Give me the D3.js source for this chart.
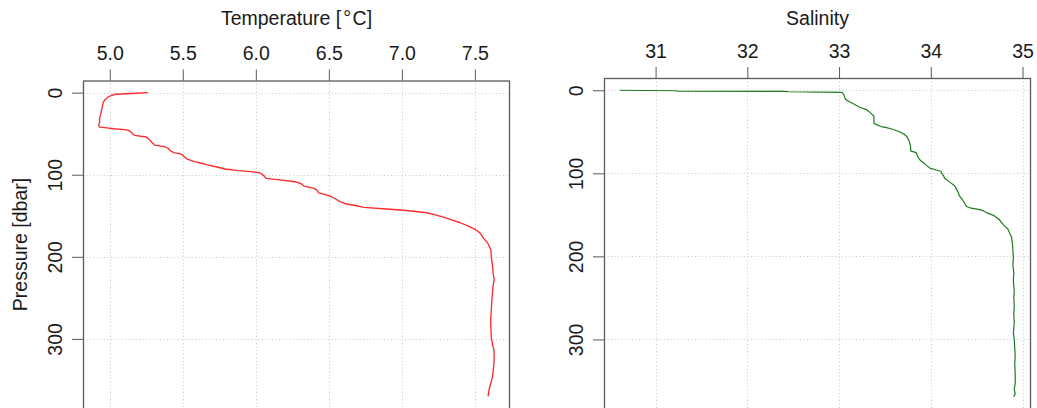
<!DOCTYPE html>
<html>
<head>
<meta charset="utf-8">
<script src="https://cdn.jsdelivr.net/npm/d3@7"></script>
<style>
  html, body { margin: 0; padding: 0; background: #fff; overflow: hidden; }
  svg { display: block; font-family: "Liberation Sans", Arial, sans-serif; }
</style>
</head>
<body>
<svg id="chart" width="1037" height="408"></svg>
<script>
// CTD cast: temperature and salinity profiles against pressure

// Temperature profile
const tempPressure = [0, 1, 2, 3.5, 5, 8, 12, 16, 20, 25, 31, 36, 40, 42, 43, 44, 45, 46, 48, 50, 52, 54, 56, 58, 61, 64, 66, 68, 71, 73, 75, 78, 81, 84, 86, 88, 90, 93, 95, 96.3, 97.5, 99, 102, 104.4, 106, 108.5, 111, 113.8, 116.6, 119, 122, 124, 126, 129, 133, 135.7, 137.5, 139.8, 141.5, 143, 144.5, 146.3, 149, 152, 154.4, 158.5, 163, 167.4, 172, 177.6, 184, 191.8, 200, 210, 220, 228, 236, 245, 255, 265, 277, 290, 298, 306, 314, 322, 330, 338, 346, 352, 358, 364, 370];
const temperature = [5.26, 5.15, 5.04, 5.01, 4.99, 4.97, 4.955, 4.95, 4.945, 4.94, 4.93, 4.93, 4.925, 4.93, 4.98, 5.03, 5.10, 5.13, 5.145, 5.155, 5.17, 5.25, 5.265, 5.275, 5.29, 5.31, 5.38, 5.40, 5.415, 5.44, 5.49, 5.51, 5.53, 5.58, 5.63, 5.67, 5.72, 5.79, 5.88, 5.97, 6.02, 6.04, 6.06, 6.07, 6.15, 6.27, 6.31, 6.33, 6.40, 6.42, 6.43, 6.47, 6.51, 6.54, 6.58, 6.62, 6.68, 6.74, 6.87, 6.99, 7.08, 7.17, 7.23, 7.29, 7.33, 7.40, 7.46, 7.51, 7.54, 7.56, 7.59, 7.61, 7.612, 7.62, 7.625, 7.632, 7.624, 7.62, 7.615, 7.612, 7.608, 7.61, 7.612, 7.62, 7.63, 7.632, 7.63, 7.626, 7.62, 7.612, 7.602, 7.595, 7.59];

// Salinity profile
const salPressure = [0, 0.6, 1.0, 1.3, 1.8, 2.5, 3.6, 5, 8, 10.8, 13, 16, 19, 21, 23, 26, 29, 31, 35, 39.7, 42, 43.7, 45, 47, 50, 53, 56, 60, 63, 68, 73, 75, 78, 82, 85, 88, 91, 93.7, 96, 97.5, 100, 103, 106, 110, 115, 119, 123, 127, 131, 136, 140, 142, 143.5, 145, 148, 151, 155, 159, 163, 167, 172, 177, 185, 193, 201, 210, 220, 230, 241, 250, 260, 270, 280, 293, 300, 310, 321, 330, 340, 353, 360, 365, 369];
const salinity = [30.61, 31.22, 31.25, 32.40, 32.45, 33.03, 33.04, 33.05, 33.06, 33.07, 33.10, 33.15, 33.20, 33.24, 33.29, 33.33, 33.36, 33.38, 33.38, 33.38, 33.42, 33.46, 33.52, 33.58, 33.66, 33.71, 33.74, 33.76, 33.77, 33.78, 33.78, 33.84, 33.85, 33.87, 33.89, 33.93, 33.96, 33.99, 34.06, 34.11, 34.12, 34.14, 34.15, 34.20, 34.26, 34.28, 34.30, 34.31, 34.34, 34.37, 34.39, 34.44, 34.52, 34.57, 34.62, 34.69, 34.74, 34.77, 34.80, 34.84, 34.86, 34.88, 34.89, 34.895, 34.90, 34.895, 34.905, 34.90, 34.91, 34.905, 34.91, 34.905, 34.91, 34.90, 34.91, 34.915, 34.92, 34.915, 34.92, 34.92, 34.91, 34.92, 34.905];

// Tick labels
const tempTicks = [5.0, 5.5, 6.0, 6.5, 7.0, 7.5];
const salTicks = [31, 32, 33, 34, 35];
const pressureTicks = [0, 100, 200, 300];

const svg = d3.select("#chart");
const FONT_TICK = "19.5px";
const FONT_TITLE = "19.5px";
const FRAME = "#5a5a5a";
const TEXT = "#1a1a1a";

// pad a data extent by 4% on each side
function padded(values) {
  const [lo, hi] = d3.extent(values);
  const d = (hi - lo) * 0.04;
  return [lo - d, hi + d];
}

function panel(opts) {
  const { left, right, top, bottom, xVals, yVals, xTicks, xFormat, title, yTitle, color, lineWidth } = opts;
  const x = d3.scaleLinear().domain(padded(xVals)).range([left, right]);
  const y = d3.scaleLinear().domain(padded(yVals)).range([top, bottom]);
  const g = svg.append("g");

  // dotted grid
  const grid = g.append("g").attr("stroke", "#cfcfcf").attr("stroke-width", 1).attr("stroke-dasharray", "1.2,2.3");
  grid.selectAll("line.v").data(xTicks).join("line")
    .attr("x1", d => Math.round(x(d)) + 0.5).attr("x2", d => Math.round(x(d)) + 0.5)
    .attr("y1", top).attr("y2", bottom);
  grid.selectAll("line.h").data(pressureTicks).join("line")
    .attr("y1", d => Math.round(y(d)) + 0.5).attr("y2", d => Math.round(y(d)) + 0.5)
    .attr("x1", left).attr("x2", right);

  // profile line
  const pts = d3.range(xVals.length).map(i => [xVals[i], yVals[i]]);
  g.append("path").datum(pts)
    .attr("fill", "none").attr("stroke", color).attr("stroke-width", lineWidth)
    .attr("stroke-linejoin", "round")
    .attr("d", d3.line().x(d => x(d[0])).y(d => y(d[1])));

  // top axis
  const ax = g.append("g").attr("transform", `translate(0,${top})`)
    .call(d3.axisTop(x).tickValues(xTicks).tickFormat(xFormat).tickSize(11).tickPadding(9.5));
  ax.select(".domain").remove();
  ax.selectAll(".tick line").attr("stroke", FRAME);
  ax.selectAll(".tick text").attr("fill", TEXT).style("font-size", FONT_TICK)
    .style("font-family", '"Liberation Sans", Arial, sans-serif');

  // left axis with rotated labels
  const ay = g.append("g").attr("transform", `translate(${left},0)`)
    .call(d3.axisLeft(y).tickValues(pressureTicks).tickFormat(d3.format("d")).tickSize(11));
  ay.select(".domain").remove();
  ay.selectAll(".tick line").attr("stroke", FRAME);
  ay.selectAll(".tick text")
    .attr("x", null).attr("dy", null)
    .attr("text-anchor", "middle")
    .attr("transform", "translate(-21,0) rotate(-90)")
    .attr("fill", TEXT).style("font-size", FONT_TICK)
    .style("font-family", '"Liberation Sans", Arial, sans-serif');

  // frame
  g.append("rect")
    .attr("x", left + 0.5).attr("y", top + 0.5)
    .attr("width", right - left - 1).attr("height", bottom - top)
    .attr("fill", "none").attr("stroke", FRAME).attr("stroke-width", 1.3);

  // titles
  const t = g.append("text").attr("x", (left + right) / 2).attr("y", 25)
    .attr("text-anchor", "middle").attr("fill", TEXT).style("font-size", FONT_TITLE);
  title.forEach(part => t.append("tspan").attr("dx", part.dx || 0).text(part.text));
  if (yTitle) {
    g.append("text")
      .attr("transform", `translate(27,${(top + bottom) / 2}) rotate(-90)`)
      .attr("text-anchor", "middle").attr("fill", TEXT).style("font-size", FONT_TITLE)
      .text(yTitle);
  }
}

panel({
  left: 83, right: 510, top: 80.5, bottom: 408.5,
  xVals: temperature, yVals: tempPressure,
  xTicks: tempTicks, xFormat: d3.format(".1f"),
  title: [{ text: "Temperature [" }, { text: "°", dx: 2 }, { text: "C]", dx: 1.5 }],
  yTitle: "Pressure [dbar]",
  color: "#ff2b2b", lineWidth: 1.35
});

panel({
  left: 604, right: 1031, top: 78, bottom: 409,
  xVals: salinity, yVals: salPressure,
  xTicks: salTicks, xFormat: d3.format("d"),
  title: [{ text: "Salinity" }], yTitle: null,
  color: "#1e7a1e", lineWidth: 1.2
});
</script>
</body>
</html>
